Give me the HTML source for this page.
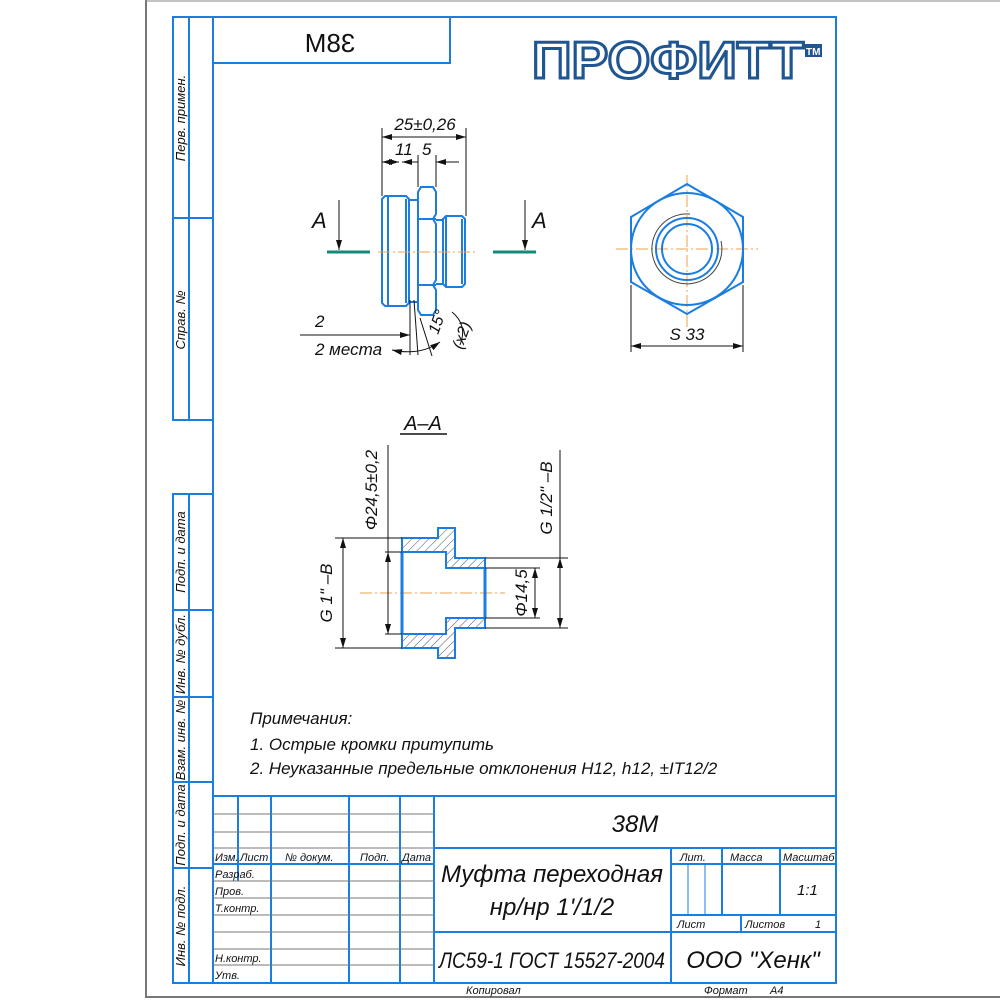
<!DOCTYPE html>
<html><head><meta charset="utf-8"><style>
html,body{margin:0;padding:0;background:#fff;}
svg{display:block;}
text{font-family:"Liberation Sans",sans-serif;font-style:italic;fill:#111;}
</style></head><body>
<svg width="1000" height="1000" viewBox="0 0 1000 1000" xmlns="http://www.w3.org/2000/svg">
<defs>
<pattern id="h" width="6" height="6" patternUnits="userSpaceOnUse" patternTransform="rotate(45)">
<line x1="0" y1="0" x2="0" y2="6" stroke="#555" stroke-width="1"/>
</pattern>
<marker id="ar" viewBox="0 0 10 6" refX="10" refY="3" markerWidth="10" markerHeight="6" orient="auto-start-reverse" markerUnits="userSpaceOnUse">
<path d="M0,0 L10,3 L0,6 z" fill="#111"/>
</marker>
</defs>
<!-- gray sheet border -->
<path d="M146,0 V997 H1000" fill="none" stroke="#777" stroke-width="2"/>
<line x1="146" y1="1" x2="1000" y2="1" stroke="#888" stroke-width="1"/>
<g stroke="#1a7de0" stroke-width="2" fill="none">
<!-- main frame -->
<rect x="213" y="17" width="623" height="966"/>
<!-- left strips -->
<path d="M213,17 H173 V420 H213 M189,17 V420 M173,218 H213"/>
<path d="M213,494 H173 V983 H213 M189,494 V983 M173,610 H213 M173,697 H213 M173,782 H213 M173,868 H213"/>
<!-- top-left box -->
<path d="M213,63 H450 V17"/>
<!-- title block -->
<path d="M213,796 H836 M434,848 H836 M434,932 H836 M671,848 V983 M434,796 V983 M671,864 H836 M671,915 H836 M722,848 V915 M780,848 V915 M741,915 V932"/>
<path d="M213,864 H434 M238,796 V881 M271,796 V983 M349,796 V983 M400,796 V983"/>
</g>
<g stroke="#1a7de0" stroke-width="1" fill="none">
<path d="M688,864 V915 M705,864 V915"/>
</g>
<g stroke="#777" stroke-width="1">
<path d="M213,814 H434 M213,832 H434 M213,848 H434 M213,881 H434 M213,898 H434 M213,915 H434 M213,932 H434 M213,949 H434 M213,965 H434"/>
</g>
<!-- left strip labels -->
<g font-size="13">
<text transform="translate(185,118) rotate(-90)" text-anchor="middle">Перв. примен.</text>
<text transform="translate(185,320) rotate(-90)" text-anchor="middle">Справ. №</text>
<text transform="translate(185,552) rotate(-90)" text-anchor="middle">Подп. и дата</text>
<text transform="translate(185,654) rotate(-90)" text-anchor="middle">Инв. № дубл.</text>
<text transform="translate(185,740) rotate(-90)" text-anchor="middle">Взам. инв. №</text>
<text transform="translate(185,825) rotate(-90)" text-anchor="middle">Подп. и дата</text>
<text transform="translate(185,926) rotate(-90)" text-anchor="middle">Инв. № подл.</text>
</g>
<!-- mirrored 38M -->
<text transform="translate(330,52) scale(-1,1)" font-size="26" text-anchor="middle" style="font-style:normal">38M</text>
<!-- logo -->
<text x="532" y="78" font-size="52" font-weight="bold" textLength="272" lengthAdjust="spacingAndGlyphs" style="font-style:normal;fill:#fff;stroke:#1f5591;stroke-width:3">ПРОФИТТ</text>
<rect x="805" y="44" width="17" height="13" fill="#1f5591"/>
<text x="806" y="55" font-size="10" font-weight="bold" style="font-style:normal;fill:#fff">TM</text>

<!-- front view -->
<g stroke="#1a7de0" stroke-width="2" fill="none">
<path d="M385,196 H406 L409,199 V303 L406,306 H385 L382,303 V199 Z"/>
<path d="M388,196 V306 M406,199 V303"/>
<path d="M409,200 H418 V302 H409"/>
<path d="M421,187 H433 L436,192 V214 L433,219 L436,224 V280 L433,285 L436,290 V310 L433,315 H421 L418,310 V192 Z M418,219 H436 M418,285 H436"/>
<path d="M436,220 H443 V284 H436"/>
<path d="M446,216 H462 L465,219 V284 L462,287 H446 L443,284 V219 Z M446,216 V287 M462,219 V284"/>
</g>
<line x1="378" y1="252" x2="478" y2="252" stroke="#f0a050" stroke-width="1" stroke-dasharray="12,3,2,3"/>
<g stroke="#138a7a" stroke-width="3"><line x1="327" y1="252" x2="370" y2="252"/><line x1="493" y1="252" x2="536" y2="252"/></g>
<g stroke="#111" stroke-width="1">
<line x1="339" y1="200" x2="339" y2="250" marker-end="url(#ar)"/>
<line x1="525" y1="200" x2="525" y2="250" marker-end="url(#ar)"/>
<line x1="382" y1="128" x2="382" y2="196"/><line x1="466" y1="128" x2="466" y2="216"/>
<line x1="418" y1="155" x2="418" y2="187"/><line x1="436" y1="155" x2="436" y2="187"/>
<line x1="382" y1="137" x2="466" y2="137" marker-start="url(#ar)" marker-end="url(#ar)"/>
<line x1="382" y1="162" x2="399" y2="162" marker-start="url(#ar)" marker-end="url(#ar)"/>
<line x1="402" y1="162" x2="418" y2="162" marker-start="url(#ar)"/>
<line x1="436" y1="162" x2="459" y2="162" marker-start="url(#ar)"/>
<line x1="300" y1="335" x2="410" y2="335" marker-end="url(#ar)"/>
<line x1="410" y1="300" x2="410" y2="355"/><line x1="414" y1="300" x2="418" y2="355"/>
<line x1="420" y1="318" x2="432" y2="356"/>
<path d="M392,350 Q420,356 440,342" fill="none" marker-start="url(#ar)" marker-end="url(#ar)"/>
<path d="M452,312 Q468,325 460,345" fill="none"/>
</g>
<g font-size="22" style="font-style:normal">
<text x="312" y="228">A</text><text x="532" y="228">A</text>
</g>
<text x="425" y="130" font-size="17" text-anchor="middle">25±0,26</text>
<text x="395" y="155" font-size="17">11</text><text x="422" y="155" font-size="17">5</text>
<text x="315" y="327" font-size="17">2</text>
<text x="315" y="355" font-size="17">2 места</text>
<text transform="translate(438,335) rotate(-70)" font-size="16">15°</text>
<text transform="translate(462,350) rotate(-70)" font-size="16">(x2)</text>

<!-- hex view -->
<g stroke="#f0a050" stroke-width="1" stroke-dasharray="12,3,2,3">
<line x1="616" y1="249" x2="758" y2="249"/><line x1="687" y1="175" x2="687" y2="330"/>
</g>
<g stroke="#1a7de0" stroke-width="2" fill="none">
<polygon points="687,184 743,217 743,282 687,314 631,282 631,217"/>
<circle cx="687" cy="249" r="56"/>
<circle cx="687" cy="249" r="31"/>
<circle cx="687" cy="249" r="25"/>
</g>
<path d="M690,214 A35,35 0 1 0 721,241" fill="none" stroke="#444" stroke-width="1"/>
<g stroke="#111" stroke-width="1">
<line x1="631" y1="285" x2="631" y2="352"/><line x1="743" y1="285" x2="743" y2="352"/>
<line x1="631" y1="346" x2="743" y2="346" marker-start="url(#ar)" marker-end="url(#ar)"/>
</g>
<text x="687" y="340" font-size="17" text-anchor="middle">S 33</text>

<!-- section A-A -->
<text x="423" y="430" font-size="20" text-anchor="middle">A–A</text>
<line x1="400" y1="434" x2="447" y2="434" stroke="#111" stroke-width="1.5"/>
<line x1="360" y1="593" x2="505" y2="593" stroke="#f0a050" stroke-width="1" stroke-dasharray="12,3,2,3"/>
<g stroke="#1a7de0" stroke-width="2" fill="url(#h)">
<path d="M402,538 H438 V528 H455 V558 H485 V568 H446 V552 H402 Z"/>
<path d="M402,648 H438 V658 H455 V628 H485 V618 H446 V634 H402 Z"/>
</g>
<g stroke="#1a7de0" stroke-width="3" fill="none"><path d="M402,552 V634 M485,568 V618"/></g>
<g stroke="#111" stroke-width="1">
<path d="M335,538 H402 M335,648 H402 M385,552 H402 M385,634 H402 M485,558 H568 M485,628 H568 M485,568 H540 M485,618 H540"/>
<line x1="343" y1="538" x2="343" y2="648" marker-start="url(#ar)" marker-end="url(#ar)"/>
<line x1="388" y1="445" x2="388" y2="634" marker-end="url(#ar)"/>
<line x1="388" y1="552" x2="388" y2="600" marker-start="url(#ar)"/>
<line x1="535" y1="568" x2="535" y2="618" marker-start="url(#ar)" marker-end="url(#ar)"/>
<line x1="560" y1="450" x2="560" y2="628" marker-end="url(#ar)"/>
<line x1="560" y1="558" x2="560" y2="600" marker-start="url(#ar)"/>
</g>
<g font-size="17">
<text transform="translate(332,593) rotate(-90)" text-anchor="middle">G 1" –B</text>
<text transform="translate(377,490) rotate(-90)" text-anchor="middle">Φ24,5±0,2</text>
<text transform="translate(527,593) rotate(-90)" text-anchor="middle">Φ14,5</text>
<text transform="translate(552,498) rotate(-90)" text-anchor="middle">G 1/2" –B</text>
</g>

<!-- notes -->
<g font-size="17">
<text x="250" y="724">Примечания:</text>
<text x="250" y="750">1. Острые кромки притупить</text>
<text x="250" y="774">2. Неуказанные предельные отклонения H12, h12, ±IT12/2</text>
</g>

<!-- title block text -->
<text x="635" y="832" font-size="24" text-anchor="middle">38M</text>
<g font-size="11">
<text x="215" y="861">Изм.</text><text x="240" y="861">Лист</text><text x="285" y="861">№ докум.</text>
<text x="360" y="861">Подп.</text><text x="402" y="861">Дата</text>
<text x="215" y="878">Разраб.</text><text x="215" y="895">Пров.</text><text x="215" y="912">Т.контр.</text>
<text x="215" y="962">Н.контр.</text><text x="215" y="979">Утв.</text>
<text x="680" y="861">Лит.</text><text x="730" y="861">Масса</text><text x="783" y="861">Масштаб</text>
<text x="677" y="928">Лист</text><text x="745" y="928">Листов</text><text x="815" y="928">1</text>
<text x="466" y="994">Копировал</text><text x="704" y="994">Формат</text><text x="770" y="994">A4</text>
</g>
<text x="797" y="895" font-size="15">1:1</text>
<text x="552" y="882" font-size="24" text-anchor="middle">Муфта переходная</text>
<text x="552" y="915" font-size="24" text-anchor="middle">нр/нр 1'/1/2</text>
<text x="552" y="968" font-size="22" text-anchor="middle" textLength="226" lengthAdjust="spacingAndGlyphs">ЛС59-1 ГОСТ 15527-2004</text>
<text x="753" y="968" font-size="24" text-anchor="middle">ООО "Хенк"</text>
</svg>
</body></html>
